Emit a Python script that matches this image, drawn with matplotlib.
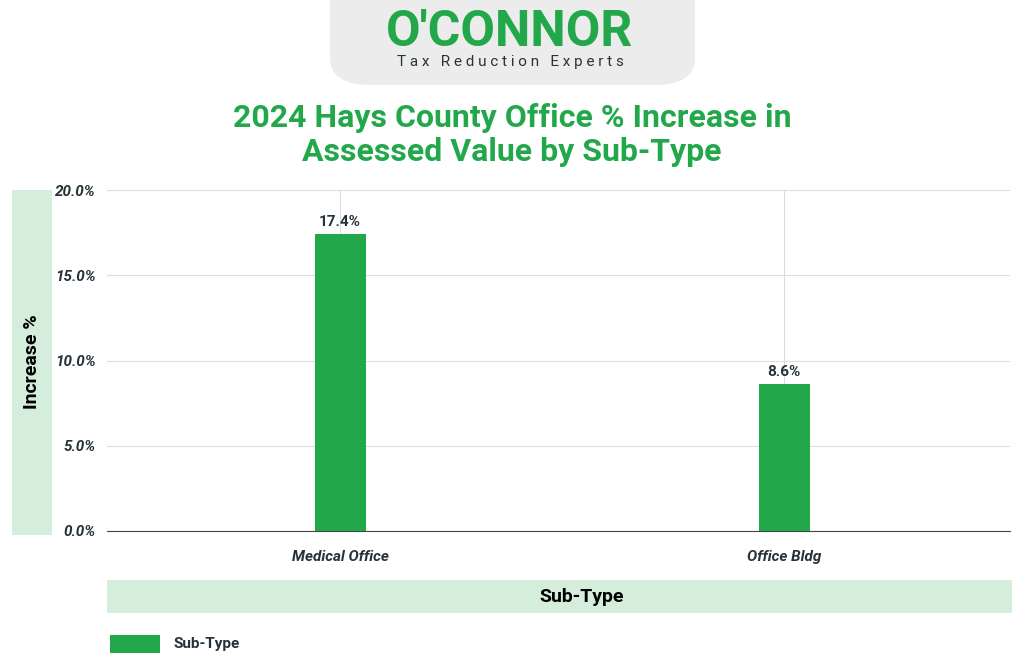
import matplotlib
matplotlib.use("Agg")
import matplotlib.pyplot as plt
from matplotlib.patches import Rectangle, FancyBboxPatch

categories = ["Medical Office", "Office Bldg"]
values = [17.4, 8.6]
y_ticks = [0, 5, 10, 15, 20]

GREEN = "#22a84a"
LIGHT = "#d4eedb"
DARK = "#263238"
W, H = 1024, 672

fig = plt.figure(figsize=(10.24, 6.72), dpi=100)
plt.rcParams["font.family"] = "Roboto"


def fx(px):
    return px / W


def fy(py):
    return 1 - py / H


# logo
fig.patches.append(FancyBboxPatch((fx(330), fy(85)), fx(365), 85 / H + 0.05,
                                  boxstyle="round,pad=0,rounding_size=0.04",
                                  transform=fig.transFigure, fc="#ececec", ec="none"))
fig.text(fx(510), fy(33), "O'CONNOR", ha="center", va="center", fontsize=36,
         fontweight="bold", color=GREEN)
fig.text(fx(510), fy(62), "T a x   R e d u c t i o n   E x p e r t s", ha="center", va="center",
         fontsize=11, color=DARK)

fig.text(fx(512), fy(135), "2024 Hays County Office % Increase in\nAssessed Value by Sub-Type",
         ha="center", va="center", fontsize=23, fontweight="bold", color=GREEN,
         linespacing=1.2)

ax = fig.add_axes([fx(107), fy(531), fx(1010 - 107), (531 - 190) / H])
x = range(len(categories))
ax.bar(x, values, width=0.115, color=GREEN, zorder=3)
for xi, v in zip(x, values):
    ax.text(xi, v + 0.3, f"{v}%", ha="center", va="bottom", fontsize=11,
            fontweight="bold", color=DARK)
ax.set_xlim(-0.525, 1.509)
ax.set_ylim(0, 20)
ax.set_yticks(y_ticks)
ax.set_yticklabels([f"{t:.1f}%" for t in y_ticks], fontsize=11, fontstyle="italic",
                   fontweight="bold", color=DARK)
ax.set_xticks(list(x))
ax.set_xticklabels(categories, fontsize=11, fontstyle="italic", fontweight="bold", color=DARK)
ax.tick_params(axis="x", length=0, pad=14)
ax.tick_params(axis="y", length=0, pad=8)
ax.grid(True, color="#dddddd", lw=0.8, zorder=0)
for s in ["top", "right", "left"]:
    ax.spines[s].set_visible(False)
ax.spines["bottom"].set_color("#444444")

# axis title bands
fig.patches.append(Rectangle((fx(12), fy(535)), fx(40), (535 - 190) / H,
                             transform=fig.transFigure, fc=LIGHT, ec="none"))
fig.text(fx(32), fy(362), "Increase %", rotation=90, ha="center", va="center",
         fontsize=14, fontweight="bold", color="black")
fig.patches.append(Rectangle((fx(107), fy(613)), fx(905), 33 / H,
                             transform=fig.transFigure, fc=LIGHT, ec="none"))
fig.text(fx(582), fy(597), "Sub-Type", ha="center", va="center",
         fontsize=14, fontweight="bold", color="black")

# legend
fig.patches.append(Rectangle((fx(110), fy(653)), fx(50), 18 / H,
                             transform=fig.transFigure, fc=GREEN, ec="none"))
fig.text(fx(174), fy(644), "Sub-Type", ha="left", va="center",
         fontsize=11, fontweight="bold", color=DARK)

fig.savefig("out.png", dpi=100)
